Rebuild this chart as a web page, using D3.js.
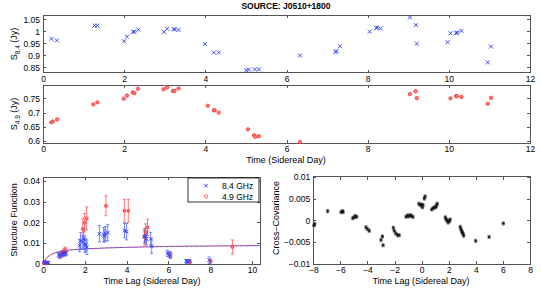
<!DOCTYPE html>
<html>
<head>
<meta charset="utf-8">
<script src="https://cdn.jsdelivr.net/npm/d3@7"></script>
<style>
body { margin:0; background:#fff; }
svg { font-family: "Liberation Sans", Arial, sans-serif; }
.axis path, .axis line { stroke:#555; shape-rendering:crispEdges; }
.axis text { fill:#000; font-size:8.5px; }
</style>
</head>
<body>
<div id="chart"></div>
<script>
// light curves (time in sidereal days)
var t84 = [0.21,0.34,1.27,1.34,2.0,2.07,2.22,2.25,2.35,2.98,3.06,3.22,3.25,3.34,3.99,4.21,4.33,5.01,5.07,5.22,5.32,
           6.33,7.21,7.23,7.32,8.05,8.21,8.24,8.32,9.04,9.19,9.21,9.97,10.04,10.18,10.21,10.31,10.96,11.04];
var s84 = [0.969,0.962,1.024,1.024,0.959,0.978,0.998,0.998,1.007,0.998,1.011,1.009,1.008,1.006,0.947,0.912,0.912,0.839,0.841,0.842,0.842,
           0.900,0.914,0.918,0.938,0.999,1.015,1.015,1.012,1.058,1.026,0.949,0.955,0.992,0.994,0.994,1.002,0.871,0.937];
var t49 = [0.21,0.24,0.35,1.24,1.34,1.99,2.07,2.21,2.25,2.34,2.97,3.06,3.20,3.24,3.34,4.06,4.21,4.23,4.33,5.05,5.20,5.23,5.32,
           6.33,9.04,9.18,9.21,10.04,10.18,10.20,10.31,10.96,11.04];
var s49 = [0.666,0.669,0.676,0.729,0.736,0.749,0.760,0.771,0.768,0.784,0.782,0.789,0.776,0.776,0.785,0.724,0.708,0.708,0.700,0.641,0.620,0.615,0.617,
           0.597,0.765,0.775,0.751,0.750,0.758,0.758,0.755,0.731,0.752];

// structure functions
var sfLag84 = [0.05,0.1,0.15,0.2,0.25,0.75,0.8,0.9,0.95,1.0,1.05,1.1,1.75,1.8,1.9,1.95,2.0,2.05,2.1,2.7,2.9,2.95,3.0,3.1,3.9,4.0,4.85,4.9,4.95,5.15,5.2,5.95,6.05,6.1,6.85,6.9,7.0,7.95];
var sf84    = [0.0005,0.0007,0.0004,0.0006,0.0005,0.0043,0.0038,0.0045,0.005,0.0048,0.0055,0.005,0.0088,0.011,0.0105,0.012,0.0095,0.009,0.008,0.0145,0.014,0.0135,0.0145,0.015,0.016,0.0155,0.013,0.0135,0.012,0.012,0.0085,0.005,0.0045,0.004,0.0012,0.001,0.0013,0.0017];
var sfErr84 = [0.0003,0.0003,0.0003,0.0003,0.0003,0.0012,0.0012,0.0012,0.0012,0.0012,0.0012,0.0012,0.003,0.004,0.003,0.005,0.004,0.003,0.0035,0.004,0.0035,0.003,0.0035,0.004,0.0035,0.004,0.003,0.0035,0.003,0.003,0.0035,0.0015,0.0015,0.0015,0.0008,0.0008,0.0008,0.0015];
var sfLag49 = [0.05,0.1,0.15,0.2,0.85,0.9,0.95,1.0,1.05,1.1,1.9,1.99,2.09,3.01,3.89,4.08,4.85,4.91,5.0,6.08,7.03,8.02,9.06];
var sf49    = [0.0003,0.0005,0.0004,0.0003,0.0042,0.0048,0.005,0.0055,0.006,0.0058,0.0168,0.0198,0.0219,0.028,0.0256,0.0256,0.013,0.0153,0.0176,0.0043,0.0009,0.0012,0.0081];
var sfErr49 = [0.0003,0.0003,0.0003,0.0003,0.0015,0.0015,0.0015,0.0018,0.002,0.0018,0.005,0.0045,0.0055,0.0048,0.0055,0.0055,0.004,0.004,0.004,0.0012,0.0008,0.0008,0.0034];
var fitLag  = [0,0.1,0.2,0.3,0.5,0.75,1,1.5,2,3,4,5,6,8,10.4];
var fit84   = [0,0.0018,0.003,0.0039,0.005,0.0058,0.0063,0.0068,0.0071,0.0076,0.0079,0.0081,0.0083,0.0085,0.0087];
var fit49   = [0,0.0017,0.0029,0.0038,0.0049,0.0057,0.0062,0.0068,0.0071,0.0076,0.0079,0.0082,0.0084,0.0086,0.0088];

// cross-covariance
var ccLag = [-7.95,-7.9,-6.94,-5.95,-5.85,-5.8,-5.09,-4.99,-4.9,-4.8,-4.11,-3.99,-3.87,-3.0,-2.9,-2.85,-2.09,-2.02,-1.9,-1.78,-1.66,
             -1.15,-1.05,-0.95,-0.85,-0.75,-0.65,-0.2,-0.1,0,0.05,0.1,0.2,0.25,0.75,0.85,0.95,1.05,1.1,1.15,
             1.75,1.8,1.9,1.95,2.05,2.1,2.85,2.9,2.95,3.0,3.05,3.1,3.99,4.98,6.03];
var ccVal = [-0.0012,-0.0008,0.0021,0.0019,0.0021,0.0019,0.0005,0.0007,0.001,0.0008,-0.0016,-0.002,-0.0024,-0.0045,-0.0037,-0.0057,-0.0017,-0.0024,-0.003,-0.0034,-0.0034,
             0.0008,0.0011,0.0009,0.0012,0.001,0.0008,0.0038,0.0035,0.0036,0.003,0.0035,0.005,0.0055,0.0025,0.0028,0.003,0.003,0.0035,0.0038,
             0.0007,0.0002,0,-0.0005,-0.0002,0.0002,-0.0015,-0.002,-0.0024,-0.0028,-0.003,-0.0035,-0.0047,-0.0038,-0.0007];

var xTicks12 = [0,2,4,6,8,10,12];
var yTicks84 = [0.85,0.9,0.95,1,1.05];
var yTicks49 = [0.6,0.65,0.7,0.75];
var sfXTicks = [0,2,4,6,8,10];
var sfYTicks = [0,0.01,0.02,0.03,0.04];
var ccXTicks = [-8,-6,-4,-2,0,2,4,6,8];
var ccYTicks = [-0.01,-0.005,0,0.005,0.01];

var blue = "#2b3cff", red = "#ff3333";

var svg = d3.select("#chart").append("svg").attr("width", 541).attr("height", 294);

function panel(box, xd, yd, xt, yt, fx, fy) {
  var x = d3.scaleLinear().domain(xd).range([box.x0, box.x1]);
  var y = d3.scaleLinear().domain(yd).range([box.y1, box.y0]);
  var g = svg.append("g");
  g.append("rect").attr("x", box.x0).attr("y", box.y0)
    .attr("width", box.x1 - box.x0).attr("height", box.y1 - box.y0)
    .attr("fill", "#fff").attr("stroke", "#555").attr("shape-rendering", "crispEdges");
  g.append("g").attr("class", "axis").attr("transform", "translate(0," + box.y1 + ")")
    .call(d3.axisBottom(x).tickValues(xt).tickSize(-3).tickPadding(3).tickFormat(fx));
  g.append("g").attr("class", "axis").attr("transform", "translate(0," + box.y0 + ")")
    .call(d3.axisTop(x).tickValues(xt).tickSize(-3).tickFormat(""));
  g.append("g").attr("class", "axis").attr("transform", "translate(" + box.x0 + ",0)")
    .call(d3.axisLeft(y).tickValues(yt).tickSize(-3).tickPadding(3).tickFormat(fy));
  g.append("g").attr("class", "axis").attr("transform", "translate(" + box.x1 + ",0)")
    .call(d3.axisRight(y).tickValues(yt).tickSize(-3).tickFormat(""));
  g.selectAll(".domain").remove();
  return {x: x, y: y, g: g};
}

var plain = function(d) { return String(+d.toFixed(4)); };
var minus = function(d) { return d < 0 ? "\u2212" + String(+(-d).toFixed(4)) : String(+d.toFixed(4)); };

function crosses(g, xs, ys, sx, sy, col, r) {
  g.selectAll(null).data(xs).enter().append("path")
    .attr("d", function(d, i) {
      var cx = sx(d), cy = sy(ys[i]);
      return "M" + (cx - r) + "," + (cy - r) + "L" + (cx + r) + "," + (cy + r) +
             "M" + (cx - r) + "," + (cy + r) + "L" + (cx + r) + "," + (cy - r);
    })
    .attr("stroke", col).attr("stroke-width", 0.9).attr("fill", "none");
}
function dots(g, xs, ys, sx, sy, r) {
  g.selectAll(null).data(xs).enter().append("circle")
    .attr("cx", function(d) { return sx(d); })
    .attr("cy", function(d, i) { return sy(ys[i]); })
    .attr("r", r).attr("fill", "#ff7777").attr("stroke", red).attr("stroke-width", 0.8);
}
function errbars(g, xs, ys, es, sx, sy, col) {
  g.selectAll(null).data(xs).enter().append("path")
    .attr("d", function(d, i) {
      var cx = sx(d), a = sy(ys[i] + es[i]), b = sy(ys[i] - es[i]);
      return "M" + cx + "," + a + "V" + b + "M" + (cx - 1.5) + "," + a + "H" + (cx + 1.5) +
             "M" + (cx - 1.5) + "," + b + "H" + (cx + 1.5);
    })
    .attr("stroke", col).attr("stroke-width", 0.8).attr("fill", "none");
}

// title
svg.append("text").attr("x", 286).attr("y", 9).attr("text-anchor", "middle")
  .attr("font-size", "8.5px").attr("font-weight", "bold").text("SOURCE: J0510+1800");

// panel 1: S8.4
var p1 = panel({x0:43, x1:530, y0:15, y1:72.5}, [0,12], [0.829,1.068], xTicks12, yTicks84, plain, plain);
crosses(p1.g, t84, s84, p1.x, p1.y, blue, 2);

// panel 2: S4.9
var p2 = panel({x0:43, x1:530, y0:85, y1:143.3}, [0,12], [0.592,0.797], xTicks12, yTicks49, plain, plain);
dots(p2.g, t49, s49, p2.x, p2.y, 1.7);

function ylab(x, y, main, sub) {
  var t = svg.append("text").attr("transform", "translate(" + x + "," + y + ") rotate(-90)")
    .attr("text-anchor", "middle").attr("font-size", "9px");
  t.append("tspan").text(main);
  if (sub) {
    t.append("tspan").attr("font-size", "6.5px").attr("dy", "3").text(sub);
    t.append("tspan").attr("dy", "-3").text(" (Jy)");
  }
}
ylab(17, 44, "S", "8.4");
ylab(17, 114, "S", "4.9");

svg.append("text").attr("x", 286).attr("y", 163).attr("text-anchor", "middle")
  .attr("font-size", "9px").text("Time (Sidereal Day)");

// panel 3: structure function
var p3 = panel({x0:43, x1:260, y0:177.3, y1:264.3}, [0,10.38], [-0.0003,0.0418], sfXTicks, sfYTicks, plain, plain);
var line = d3.line().curve(d3.curveMonotoneX);
p3.g.append("path")
  .attr("d", line(fitLag.map(function(d, i) { return [p3.x(d), p3.y(fit49[i])]; })))
  .attr("fill", "none").attr("stroke", red).attr("stroke-width", 0.9).attr("stroke-dasharray", "3,2");
p3.g.append("path")
  .attr("d", line(fitLag.map(function(d, i) { return [p3.x(d), p3.y(fit84[i])]; })))
  .attr("fill", "none").attr("stroke", blue).attr("stroke-width", 0.9).attr("stroke-dasharray", "3,2")
  .attr("stroke-dashoffset", 2.5);
errbars(p3.g, sfLag49, sf49, sfErr49, p3.x, p3.y, "#ff5555");
errbars(p3.g, sfLag84, sf84, sfErr84, p3.x, p3.y, "#5566ff");
dots(p3.g, sfLag49, sf49, p3.x, p3.y, 1.5);
crosses(p3.g, sfLag84, sf84, p3.x, p3.y, blue, 1.8);

// legend
var lg = svg.append("g");
lg.append("rect").attr("x", 188).attr("y", 178).attr("width", 71).attr("height", 24)
  .attr("fill", "#fff").attr("stroke", "#000").attr("stroke-width", 0.8);
crosses(lg, [206], [185.7], function(d) { return d; }, function(d) { return d; }, blue, 1.8);
lg.append("circle").attr("cx", 206).attr("cy", 196.5).attr("r", 1.6)
  .attr("fill", "none").attr("stroke", red).attr("stroke-width", 0.8);
lg.append("text").attr("x", 222).attr("y", 188.7).attr("font-size", "8.5px").text("8.4 GHz");
lg.append("text").attr("x", 222).attr("y", 199.7).attr("font-size", "8.5px").text("4.9 GHz");

svg.append("text").attr("transform", "translate(17,220) rotate(-90)").attr("text-anchor", "middle")
  .attr("font-size", "9px").text("Structure Function");
svg.append("text").attr("x", 152).attr("y", 284).attr("text-anchor", "middle")
  .attr("font-size", "9px").text("Time Lag (Sidereal Day)");

// panel 4: cross-covariance
var p4 = panel({x0:313.3, x1:530, y0:176.7, y1:264}, [-8,8], [-0.01,0.01], ccXTicks, ccYTicks, minus, minus);
var ccErr = ccLag.map(function() { return 0.0004; });
errbars(p4.g, ccLag, ccVal, ccErr, p4.x, p4.y, "#aaa");
p4.g.selectAll(null).data(ccLag).enter().append("path")
  .attr("transform", function(d, i) { return "translate(" + p4.x(d) + "," + p4.y(ccVal[i]) + ")"; })
  .attr("d", "M-1.8,0H1.8M0,-1.8V1.8M-1.3,-1.3L1.3,1.3M-1.3,1.3L1.3,-1.3")
  .attr("stroke", "#111").attr("stroke-width", 0.8).attr("fill", "none");

svg.append("text").attr("transform", "translate(279,218) rotate(-90)").attr("text-anchor", "middle")
  .attr("font-size", "9px").text("Cross\u2013Covariance");
svg.append("text").attr("x", 421).attr("y", 284).attr("text-anchor", "middle")
  .attr("font-size", "9px").text("Time Lag (Sidereal Day)");
</script>
</body>
</html>
